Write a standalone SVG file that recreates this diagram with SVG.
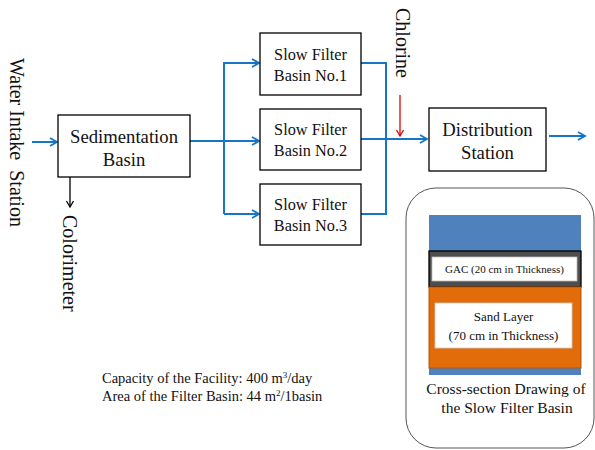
<svg xmlns="http://www.w3.org/2000/svg" width="595" height="450" viewBox="0 0 595 450">
<defs>
<marker id="ab" markerWidth="10" markerHeight="10" refX="8" refY="5" orient="auto" markerUnits="userSpaceOnUse"><path d="M1,1 L8,5 L1,9" fill="none" stroke="#1874c4" stroke-width="1.8"/></marker>
<marker id="ak" markerWidth="10" markerHeight="10" refX="8" refY="5" orient="auto" markerUnits="userSpaceOnUse"><path d="M2,1.5 L8,5 L2,8.5" fill="none" stroke="#000" stroke-width="1.3"/></marker>
<marker id="ar" markerWidth="10" markerHeight="10" refX="8" refY="5" orient="auto" markerUnits="userSpaceOnUse"><path d="M2,1.5 L8,5 L2,8.5" fill="none" stroke="#e00000" stroke-width="1.3"/></marker>
</defs>
<style>
text{font-family:'Liberation Serif','Times New Roman','DejaVu Serif',serif;fill:#111;}
.box{fill:#fff;stroke:#000;stroke-width:1.3;}
.bl{fill:none;stroke:#1874c4;stroke-width:2;}
</style>
<rect width="595" height="450" fill="#fff"/>
<g id="labels">
<text font-size="20" transform="translate(10,58) rotate(90)" xml:space="preserve">Water Intake  Station</text>
<text font-size="20" transform="translate(63,215) rotate(90)">Colorimeter</text>
<text font-size="20" transform="translate(396,8) rotate(90)">Chlorine</text>
<text font-size="14.5" x="102" y="383">Capacity of the Facility:  400 m<tspan font-size="9" dy="-5">3</tspan><tspan dy="5">/day</tspan></text>
<text font-size="14.5" x="102" y="401">Area of the Filter Basin:  44 m<tspan font-size="9" dy="-5">2</tspan><tspan dy="5">/1basin</tspan></text>
</g>
<g id="connectors">
<line class="bl" x1="32" y1="142" x2="57" y2="142" marker-end="url(#ab)"/>
<path class="bl" d="M190,141 H259" marker-end="url(#ab)"/>
<path class="bl" d="M224,214 V63 H259" marker-end="url(#ab)"/>
<path class="bl" d="M224,214 H259" marker-end="url(#ab)"/>
<path class="bl" d="M361,63 H386 V214 H361"/>
<path class="bl" d="M361,139 H427" marker-end="url(#ab)"/>
<path class="bl" d="M549,136 H585" marker-end="url(#ab)"/>
<circle cx="70" cy="166" r="3" fill="#000"/>
<line x1="70" y1="166" x2="70" y2="207" stroke="#000" stroke-width="1.3" marker-end="url(#ak)"/>
<line x1="400" y1="95" x2="400" y2="136" stroke="#e00000" stroke-width="1.3" marker-end="url(#ar)"/>
</g>
<g id="sedimentation">
<rect class="box" x="58" y="115" width="132" height="62"/>
<text font-size="18.7" x="124" y="143" text-anchor="middle">Sedimentation</text>
<text font-size="18.7" x="124" y="166" text-anchor="middle">Basin</text>
</g>
<g id="filter1">
<rect class="box" x="260" y="33" width="101" height="62"/>
<text font-size="16.3" x="310.5" y="60" text-anchor="middle">Slow Filter</text>
<text font-size="16.3" x="310.5" y="81" text-anchor="middle">Basin No.1</text>
</g>
<g id="filter2">
<rect class="box" x="260" y="109" width="101" height="61"/>
<text font-size="16.3" x="310.5" y="135" text-anchor="middle">Slow Filter</text>
<text font-size="16.3" x="310.5" y="156" text-anchor="middle">Basin No.2</text>
</g>
<g id="filter3">
<rect class="box" x="260" y="184" width="101" height="61"/>
<text font-size="16.3" x="310.5" y="210" text-anchor="middle">Slow Filter</text>
<text font-size="16.3" x="310.5" y="231" text-anchor="middle">Basin No.3</text>
</g>
<g id="distribution">
<rect class="box" x="429" y="108" width="117" height="63"/>
<text font-size="18.7" x="487.5" y="136" text-anchor="middle">Distribution</text>
<text font-size="18.7" x="487.5" y="159" text-anchor="middle">Station</text>
</g>
<g id="cross-section">
<rect x="406" y="188" width="188" height="260" rx="30" ry="30" fill="#fff" stroke="#555" stroke-width="1"/>
<rect x="429" y="215" width="152" height="160" fill="#4f81bd"/>
<rect x="429" y="251" width="152" height="36" fill="#4d4d4d" stroke="#000" stroke-width="1.3"/>
<rect x="432" y="257" width="145" height="24" fill="#fff" stroke="#bbb" stroke-width="0.8"/>
<text font-size="11" x="504.5" y="273" text-anchor="middle">GAC (20 cm in Thickness)</text>
<rect x="429" y="287" width="152" height="81" fill="#e36c0a" stroke="#b5560a" stroke-width="1"/>
<rect x="435" y="303" width="137" height="45" fill="#fff" stroke="#ccc" stroke-width="0.8"/>
<text font-size="13" x="503.5" y="321" text-anchor="middle">Sand Layer</text>
<text font-size="13" x="503.5" y="340" text-anchor="middle">(70 cm in Thickness)</text>
<text font-size="15.5" x="506" y="394" text-anchor="middle">Cross-section Drawing of</text>
<text font-size="15.5" x="507" y="413" text-anchor="middle">the Slow Filter Basin</text>
</g>
</svg>
